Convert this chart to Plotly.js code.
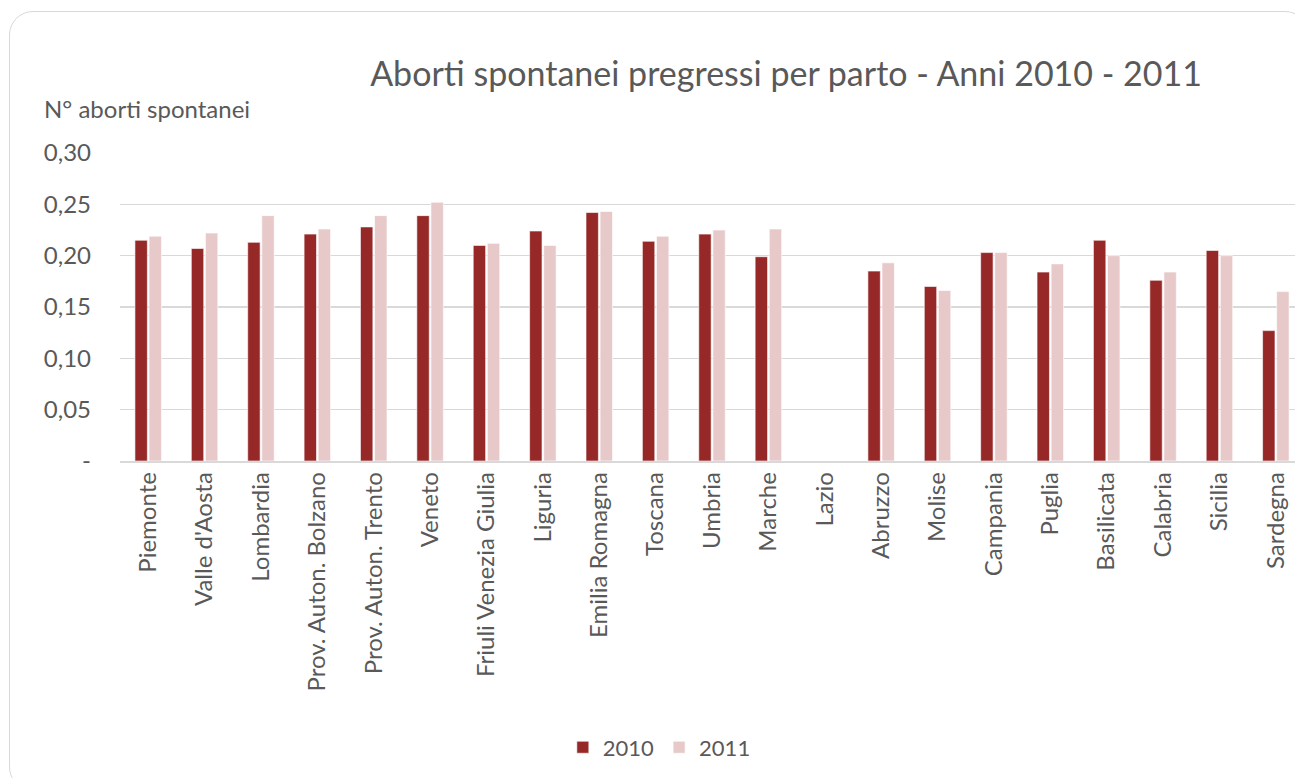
<!DOCTYPE html>
<html>
<head>
<meta charset="utf-8">
<script src="https://cdn.plot.ly/plotly-3.0.1.min.js"></script>
<style>
  html, body { margin: 0; padding: 0; background: #ffffff; overflow: hidden; }
  #frame { position: absolute; left: 9px; top: 11px; width: 1300px; height: 780px;
           border: 1.5px solid #d9d9d9; border-radius: 24px; box-sizing: border-box; }
  #chart { position: absolute; left: 0; top: 0; width: 1295px; height: 778px; }
</style>
</head>
<body>
<div id="frame"></div>
<div id="chart"></div>
<script>
const regions = ["Piemonte", "Valle d'Aosta", "Lombardia", "Prov. Auton. Bolzano", "Prov. Auton. Trento",
  "Veneto", "Friuli Venezia Giulia", "Liguria", "Emilia Romagna", "Toscana", "Umbria", "Marche",
  "Lazio", "Abruzzo", "Molise", "Campania", "Puglia", "Basilicata", "Calabria", "Sicilia", "Sardegna"];
const values2010 = [0.215, 0.207, 0.213, 0.221, 0.228, 0.239, 0.210, 0.224, 0.242, 0.214, 0.221, 0.199,
  null, 0.185, 0.170, 0.203, 0.184, 0.215, 0.176, 0.205, 0.127];
const values2011 = [0.219, 0.222, 0.239, 0.226, 0.239, 0.252, 0.212, 0.210, 0.243, 0.219, 0.225, 0.226,
  null, 0.193, 0.166, 0.203, 0.192, 0.200, 0.184, 0.200, 0.165];
const yTickVals = [0, 0.05, 0.10, 0.15, 0.20, 0.25, 0.30];
const yTickText = ["-", "0,05", "0,10", "0,15", "0,20", "0,25", "0,30"];
const seriesNames = ["2010", "2011"];

const font = "Lato, 'Open Sans', sans-serif";
const gray = "#595959";

const traces = [
  { type: "bar", name: seriesNames[0], x: regions, y: values2010,
    marker: { color: "#962828", line: { color: "#ffffff", width: 0.6 } } },
  { type: "bar", name: seriesNames[1], x: regions, y: values2011,
    marker: { color: "#e8c9ca", line: { color: "#ffffff", width: 0.6 } } }
];

const layout = {
  width: 1295, height: 778,
  paper_bgcolor: "rgba(0,0,0,0)", plot_bgcolor: "rgba(0,0,0,0)",
  margin: { l: 120, r: 0, t: 153, b: 317 },
  barmode: "group", bargap: 0.5, bargroupgap: 0.12,
  title: { text: "Aborti spontanei pregressi per parto - Anni 2010 - 2011",
    font: { family: font, size: 34, color: gray }, x: 0.607, xanchor: "center", y: 0.905, yanchor: "middle" },
  font: { family: font, color: gray },
  xaxis: { type: "category", range: [-0.5, 20.34], tickangle: -90, tickfont: { size: 24, color: gray },
    showline: true, linecolor: "#d9d9d9", linewidth: 1.5, ticks: "", showgrid: false, fixedrange: true },
  yaxis: { range: [0, 0.30], tickvals: yTickVals, ticktext: yTickText, tickfont: { size: 24, color: gray },
    showgrid: true, gridcolor: "#d9d9d9", gridwidth: 1.3, zeroline: false, showline: false,
    ticks: "", ticklabelstandoff: 28, fixedrange: true },
  showlegend: true,
  legend: { orientation: "h", x: 0.459, xanchor: "center", y: -0.93, yanchor: "middle",
    font: { size: 22, color: gray }, itemwidth: 30, traceorder: "normal" },
  annotations: [
    { text: "N° aborti spontanei", xref: "paper", yref: "paper", x: -0.066, y: 1.145,
      xanchor: "left", yanchor: "middle", showarrow: false, font: { family: font, size: 24, color: gray } }
  ]
};

Plotly.newPlot("chart", traces, layout, { displayModeBar: false, staticPlot: true });
</script>
</body>
</html>
